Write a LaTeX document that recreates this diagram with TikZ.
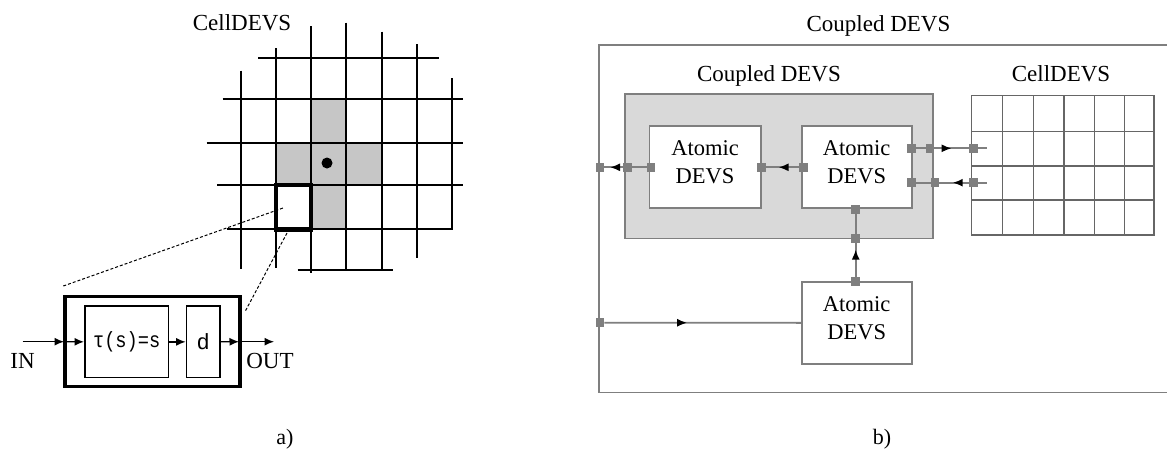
\documentclass[tikz,border=0pt]{standalone}
\usepackage{fontspec}
\setmainfont{Liberation Serif}
\newfontfamily\monofont{Liberation Mono}
\usetikzlibrary{arrows.meta,decorations.markings}
\definecolor{ln}{HTML}{7F7F7F}
\definecolor{boxfill}{HTML}{D9D9D9}
\definecolor{cellshade}{HTML}{C6C6C6}
\definecolor{gridc}{HTML}{666666}
\begin{document}
\begin{tikzpicture}[x=1pt,y=-1pt,
  lbl/.style={font=\fontsize{23}{27}\selectfont, inner sep=0, anchor=base},
  port/.style={rectangle,fill=ln,minimum size=8.5pt,inner sep=0,outer sep=0},
  abox/.style={rectangle,draw=ln,line width=1.6pt,fill=white,inner sep=0,outer sep=0,align=center,font=\fontsize{22.5}{28}\selectfont,text depth=9pt},
  conn/.style={draw=ln,line width=1.8pt},
  midarr/.style={postaction={decorate},decoration={markings,mark=at position #1 with {\arrow{Latex[length=10pt,width=8pt,color=black]}}}},
  gl/.style={line width=2pt,line cap=butt},
  mbox/.style={rectangle,draw,line width=1.5pt,inner sep=0,outer sep=0},
  marr/.style={line width=1.3pt,-{Latex[length=9.5pt,width=8pt]},shorten >=1pt},
  leader/.style={densely dashed,line width=1pt},
  mono/.style={font=\monofont\fontsize{22}{24}\selectfont}
]
\clip (0,0) rectangle (1167,463);
\fill[white] (0,0) rectangle (1167,463);

% ================= a) =================
\node[lbl] (celltitleA) at (242,30) {CellDEVS};
% shaded cells
\foreach \xa/\ya/\xb/\yb in {311/99/346/143.3, 276/143.3/311/185, 311/143.3/346/185, 346/143.3/382/185, 311/185/346/229.3}
  \fill[cellshade] (\xa,\ya) rectangle (\xb,\yb);
% grid lines
\foreach \x/\ya/\yb in {241/70.7/269, 276/48.3/268, 311/26/273, 346/22.7/270, 382/31.7/270, 417/44.3/258, 452/78.3/230.3}
  \draw[gl] (\x,\ya) -- (\x,\yb);
\foreach \y/\xa/\xb in {58.3/258.3/439, 99/222.7/463, 143.3/206.7/463, 185/217/463, 229.3/227/453, 270/297.7/392.7}
  \draw[gl] (\xa,\y) -- (\xb,\y);
\fill (327,163) circle (5.5);
% selected cell
\node[rectangle,draw,line width=4.5pt,minimum width=35pt,minimum height=44.3pt,inner sep=0,outer sep=0] (sel) at (293.5,207.15) {};
\coordinate (selin) at (283,208);
\coordinate (selout) at (287,233);

% cell module
\node[mbox,line width=3.5pt,minimum width=175pt,minimum height=90pt] (mod) at (152.5,341.7) {};
\node[mbox,minimum width=83.3pt,minimum height=71.7pt,mono] (tau) at (126.7,341.85) {\scalebox{0.85}[1]{τ(s)=s}};
\node[mbox,minimum width=33.3pt,minimum height=71.7pt,mono] (dly) at (203.3,341.85) {d};
\coordinate (inC) at (22.7,341.7);
\coordinate (outC) at (275,341.7);
\coordinate (leadA) at (63.3,286);
\coordinate (leadB) at (245,311.7);
\draw[leader] (leadA) -- (selin);
\draw[leader] (selout) -- (leadB);
\draw[marr] (inC) -- (mod.west);
\draw[marr] (mod.west) -- (tau.west);
\draw[marr] (tau.east) -- (dly.west);
\draw[marr] (dly.east) -- (mod.east);
\draw[marr] (mod.east) -- (outC);
\node[lbl] (inlbl) at (22.5,368.3) {IN};
\node[lbl] (outlbl) at (270,368.3) {OUT};
\node[lbl,font=\fontsize{22}{25}\selectfont] (capA) at (285,444) {a)};

% ================= b) =================
\node[lbl] (title) at (878.5,31.7) {Coupled DEVS};
\node[rectangle,draw=ln,line width=1.8pt,minimum width=581pt,minimum height=347.5pt,inner sep=0,outer sep=0] (outer) at (889.5,218.75) {};
\node[rectangle,draw=ln,line width=1.6pt,fill=boxfill,minimum width=307.7pt,minimum height=144.3pt,inner sep=0,outer sep=0] (cpl) at (778.85,166.15) {};
\node[lbl] (cpltitle) at (769,81.7) {Coupled DEVS};
\node[abox,minimum width=111.4pt,minimum height=81.7pt] (at1) at (705,166.85) {Atomic\\DEVS};
\node[abox,minimum width=110pt,minimum height=81.7pt] (at2) at (856.7,166.85) {Atomic\\DEVS};
\node[abox,minimum width=110pt,minimum height=82.3pt] (at3) at (856.7,322.85) {Atomic\\DEVS};

% CellDEVS grid
\node[lbl] (celltitleB) at (1061,81.7) {CellDEVS};
\node[rectangle,draw=gridc,line width=1.5pt,fill=white,minimum width=182.3pt,minimum height=139.3pt,inner sep=0,outer sep=0] (cgrid) at (1062.85,165.35) {};
\foreach \x in {1002.3,1033.3,1064,1094.3,1124.3}
  \draw[draw=gridc,line width=1.5pt] (\x,95.7) -- (\x,235);
\foreach \y in {131.7,166,200}
  \draw[draw=gridc,line width=1.5pt] (971.7,\y) -- (1154,\y);

% ports
\node[port] (pO1) at (600,167.3) {};
\node[port] (pC1) at (627.7,167.3) {};
\node[port] (pA1L) at (651,167.3) {};
\node[port] (pA1R) at (761.7,167.3) {};
\node[port] (pA2L) at (803.3,167.3) {};
\node[port] (pA2R1) at (911.7,148.3) {};
\node[port] (pA2R2) at (911.7,182.7) {};
\node[port] (pC2) at (930,148.3) {};
\node[port] (pC3) at (935,182.7) {};
\node[port] (pG1) at (973.3,148.3) {};
\node[port] (pG2) at (973.3,182.7) {};
\node[port] (pA2B) at (855.7,209.3) {};
\node[port] (pC4) at (855.7,238.3) {};
\node[port] (pA3T) at (855.7,281.7) {};
\node[port] (pO2) at (600,322.7) {};
\coordinate (g1end) at (986.7,148.3);
\coordinate (g2end) at (986.7,182.7);

% connectors
\draw[conn,midarr=0.7] (pC1) -- (pO1);
\draw[conn] (pA1L) -- (pC1);
\draw[conn,midarr=0.62] (pA2L) -- (pA1R);
\draw[conn] (pA2R1) -- (pC2);
\draw[conn,midarr=0.5] (pC2) -- (pG1);
\draw[conn] (pG1) -- (g1end);
\draw[conn] (pG2) -- (g2end);
\draw[conn,midarr=0.55] (pG2) -- (pC3);
\draw[conn] (pC3) -- (pA2R2);
\draw[conn] (pC4) -- (pA2B);
\draw[conn,midarr=0.8] (pA3T) -- (pC4);
\draw[conn,midarr=0.42] (pO2) -- (at3.west);

\node[lbl,font=\fontsize{22}{25}\selectfont] (capB) at (882,444) {b)};
\end{tikzpicture}
\end{document}
